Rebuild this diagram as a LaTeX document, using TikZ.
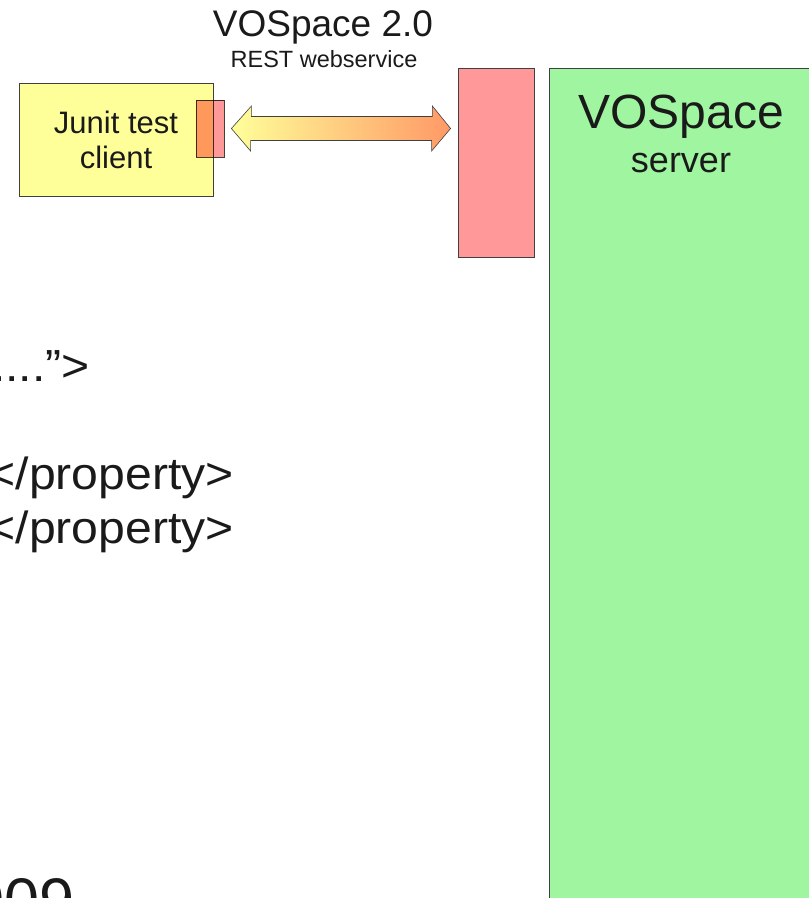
\documentclass[tikz,border=0pt]{standalone}
\usepackage{fontspec}
\setmainfont{Liberation Sans}
\newfontfamily\xmlfont[FakeStretch=1.07]{Liberation Sans}
\usetikzlibrary{positioning}
\definecolor{clientyellow}{HTML}{FFFF99}
\definecolor{wspink}{HTML}{FF9999}
\definecolor{servergreen}{HTML}{A0F5A0}
\definecolor{arroworange}{HTML}{FF9966}
\definecolor{inkgray}{HTML}{1A1A1A}
\tikzset{
  box/.style={draw=black!75, line width=0.8pt, inner sep=0pt},
  txt/.style={text=inkgray, inner sep=0pt, anchor=base},
  xmltxt/.style={txt, anchor=base east, font=\xmlfont\fontsize{45}{54}\selectfont},
}
\begin{document}
\begin{tikzpicture}[x=1pt,y=-1pt]
\useasboundingbox (0,0) rectangle (809,898);
\clip (0,0) rectangle (809,898);
% boxes
\node[box, fill=clientyellow, minimum width=194pt, minimum height=113pt, align=center, text=inkgray, font=\fontsize{31}{35}\selectfont] (client) at (116,139.5) {Junit test\\client};
\begin{scope}[blend mode=multiply]
\node[box, fill=wspink, minimum width=28pt, minimum height=57pt] (port) at (210,128.5) {};
\end{scope}
\node[box, fill=wspink, minimum width=76pt, minimum height=189pt] (ws) at (496,162.5) {};
\node[box, fill=servergreen, anchor=north west, minimum width=300pt, minimum height=900pt] (server) at (549,68) {};
% fat double arrow
\coordinate (arrL) at ([xshift=7pt]port.east);
\coordinate (arrR) at ([xshift=-7pt]port.east -| ws.west);
\draw[black!75, line width=0.6pt, left color=clientyellow, right color=arroworange]
  (arrL) -- ++(20,-22.5) -- ++(0,10.5) -- ++(181,0) -- ++(0,-10.5) -- (arrR)
  -- ++(-19,22.5) -- ++(0,-10.5) -- ++(-181,0) -- ++(0,10.5) -- cycle;
% labels
\node[txt, font=\fontsize{37}{40}\selectfont] (title) at (323,36) {VOSpace 2.0};
\node[txt, font=\fontsize{23.5}{26}\selectfont] (subtitle) at (324,67) {REST webservice};
\node[txt, font=\fontsize{48}{52}\selectfont] (srvname) at (681,128) {VOSpace};
\node[txt, font=\fontsize{36}{40}\selectfont] (srvsub) at (681,172) {server};
% cut-off text on the left
\node[xmltxt] (xmlA) at (90,381) {....”>};
\node[xmltxt] (xmlB) at (234,489) {</property>};
\node[xmltxt] (xmlC) at (234,543) {</property>};
\node[txt, anchor=base east, font=\fontsize{63}{70}\selectfont] (year) at (75,922) {009};
\end{tikzpicture}
\end{document}
